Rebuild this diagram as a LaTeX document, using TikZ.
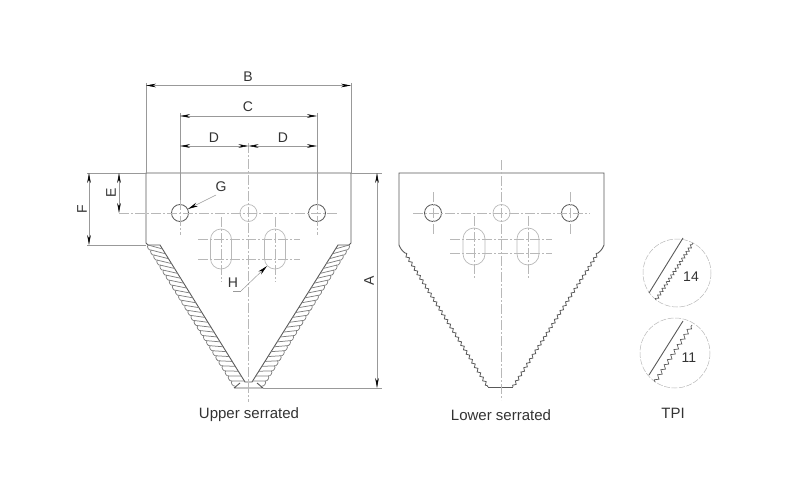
\documentclass[tikz,border=0pt]{standalone}
\usepackage{fontspec}
\setmainfont{Liberation Sans}
\usetikzlibrary{arrows.meta,calc,decorations.pathmorphing}
\definecolor{inkgray}{gray}{0.35}
\definecolor{toothgray}{gray}{0.5}
\definecolor{dimgray}{gray}{0.6}
\definecolor{axisgray}{gray}{0.72}
\tikzset{
  blade/.style={draw=inkgray, line width=0.9pt},
  hole/.style={draw=inkgray, line width=0.8pt},
  hidden/.style={draw=axisgray, line width=0.7pt},
  axis/.style={draw=axisgray, line width=0.5pt, dash pattern=on 10pt off 2pt on 2pt off 2pt},
  dim/.style={draw=dimgray, line width=0.5pt},
  arr/.style={dim, {Stealth[length=10pt,width=3.6pt,black]}-{Stealth[length=10pt,width=3.6pt,black]}},
  lead/.style={dim, -{Stealth[length=10pt,width=4pt,black]}},
  lab/.style={text=black!80, font=\fontsize{14}{14}\selectfont, inner sep=0pt},
  zig/.style={decorate, decoration={zigzag, segment length=5.2pt, amplitude=1.3pt}},
}
% one row of teeth: inner start, inner end, outer start, outer end, bend side
\newcommand{\toothband}[5]{
  \foreach \i in {0,...,27} {
    \draw[draw=toothgray, line width=0.75pt] ($(#1)!{(\i+0.8)/28}!(#2)$) -- ($(#3)!{\i/28}!(#4)$)
      to[#5=80] ($(#3)!{(\i+1)/28}!(#4)$);
  }
}
% slot with round ends
\newcommand{\slot}[4]{
  \draw[hidden] (#1-#4,#2+#4) arc[start angle=180, end angle=360, radius=#4]
    -- (#1+#4,#3-#4) arc[start angle=0, end angle=180, radius=#4] -- cycle;
}
\begin{document}
\begin{tikzpicture}[x=1,y=-1]
  \useasboundingbox (0,0) rectangle (800,500);
  % upper serrated
  \coordinate (Ua) at (146,173);
  \coordinate (Ub) at (351,173);
  \coordinate (Uil) at (160,245);
  \coordinate (Uib) at (245,382);
  \coordinate (Uol) at (148,245);
  \coordinate (Uob) at (235,386);
  \coordinate (Uir) at (338,245);
  \coordinate (Uic) at (252,382);
  \coordinate (Uor) at (349,245);
  \coordinate (Uod) at (262,386);
  \draw[blade] (Uol) -- (146,243) -- (Ua) -- (Ub) -- (351,243) -- (Uor) -- (Uir) -- (Uic) -- (Uib) -- (Uil) -- cycle;
  \draw[blade] (234,388) -- (263,388) (234,388) -- (240,383) (263,388) -- (257,383);
  \toothband{Uil}{Uib}{Uol}{Uob}{bend right}
  \toothband{Uir}{Uic}{Uor}{Uod}{bend left}
  \draw[hole] (180,213) circle[radius=8.5] (317,213) circle[radius=8.5];
  \draw[hidden] (248.5,213) circle[radius=8.5];
  \slot{221}{229}{269}{10.5}
  \slot{275}{229}{269}{10.5}
  \draw[axis] (248.5,143) -- (248.5,402);
  \draw[axis] (119,213) -- (337,213);
  \draw[axis] (198,239) -- (300,239);
  \draw[axis] (198,259) -- (300,259);
  \draw[axis] (221,217) -- (221,282);
  \draw[axis] (275,217) -- (275,282);
  \draw[axis] (180,200) -- (180,235);
  \draw[axis] (317,200) -- (317,235);
  % dimensions
  \draw[dim] (146,83) -- (Ua);
  \draw[dim] (351,83) -- (Ub);
  \draw[dim] (180,113) -- (180,200);
  \draw[dim] (317,113) -- (317,200);
  \draw[dim] (87,173) -- (Ua);
  \draw[dim] (Ub) -- (382,173);
  \draw[dim] (87,245) -- (146,245);
  \draw[dim] (263,388) -- (382,388);
  \draw[arr] (146,85.5) -- (351,85.5);
  \draw[arr] (180,116) -- (317,116);
  \draw[arr] (180,146) -- (248.5,146);
  \draw[arr] (248.5,146) -- (317,146);
  \draw[arr] (119,173) -- (119,213);
  \draw[arr] (89,173) -- (89,245);
  \draw[arr] (377,173) -- (377,388);
  \node[lab] (lblB) at (248,77) {B};
  \node[lab] (lblC) at (248,107) {C};
  \node[lab] (lblDa) at (214,138) {D};
  \node[lab] (lblDb) at (283,138) {D};
  \node[lab, rotate=90] (lblE) at (111,193) {E};
  \node[lab, rotate=90] (lblF) at (82,209) {F};
  \node[lab, rotate=90] (lblA) at (369,281) {A};
  \node[lab] (lblG) at (221,187) {G};
  \node[lab] (lblH) at (233,283) {H};
  \draw[lead] (216,195) -- (188,209);
  \draw[dim] (233,291) -- (241,291);
  \draw[lead] (241,291) -- (267,266);
  \node[lab, font=\fontsize{15}{15}\selectfont] (lblUpper) at (249,415) {Upper serrated};
  % lower serrated
  \coordinate (La) at (399,173);
  \coordinate (Lb) at (604,173);
  \coordinate (Ll) at (405,253);
  \coordinate (Lr) at (598,253);
  \coordinate (Lc) at (488,387);
  \coordinate (Ld) at (513,387);
  \draw[blade] (Ll) to[bend left=15] (399,245) -- (La) -- (Lb) -- (604,245) to[bend left=15] (Lr);
  \draw[blade] (Lc) -- (Ld);
  \draw[blade, line width=0.8pt, zig] (Ll) -- (Lc);
  \draw[blade, line width=0.8pt, zig] (Ld) -- (Lr);
  \draw[hole] (433,213) circle[radius=8.5] (570,213) circle[radius=8.5];
  \draw[hidden] (501.5,213) circle[radius=8.5];
  \slot{474}{228}{265}{11}
  \slot{528}{228}{265}{11}
  \draw[axis] (501.5,160) -- (501.5,400);
  \draw[axis] (413,213) -- (590,213);
  \draw[axis] (450,239) -- (552,239);
  \draw[axis] (450,253) -- (552,253);
  \draw[axis] (474,216) -- (474,279);
  \draw[axis] (528,216) -- (528,279);
  \draw[axis] (433,192) -- (433,234);
  \draw[axis] (570,192) -- (570,234);
  \node[lab, font=\fontsize{15}{15}\selectfont] (lblLower) at (501,415) {Lower serrated};
  % TPI
  \draw[axis, dash pattern=on 6pt off 1.5pt] (677,273) circle[radius=34];
  \draw[axis, dash pattern=on 6pt off 1.5pt] (675,353) circle[radius=35];
  \draw[blade] (649,293) -- (683,238);
  \draw[blade] (649,375) -- (683,321);
  \draw[blade, line width=0.7pt, decorate, decoration={zigzag, segment length=4pt, amplitude=1.4pt}] (656,300) -- (693,243);
  \draw[blade, line width=0.7pt, decorate, decoration={zigzag, segment length=6pt, amplitude=1.8pt}] (655,382) -- (692,325);
  \node[lab] (lbl14) at (691,277) {14};
  \node[lab] (lbl11) at (689,358) {11};
  \node[lab, font=\fontsize{15}{15}\selectfont] (lblTPI) at (673,413) {TPI};
\end{tikzpicture}
\end{document}
